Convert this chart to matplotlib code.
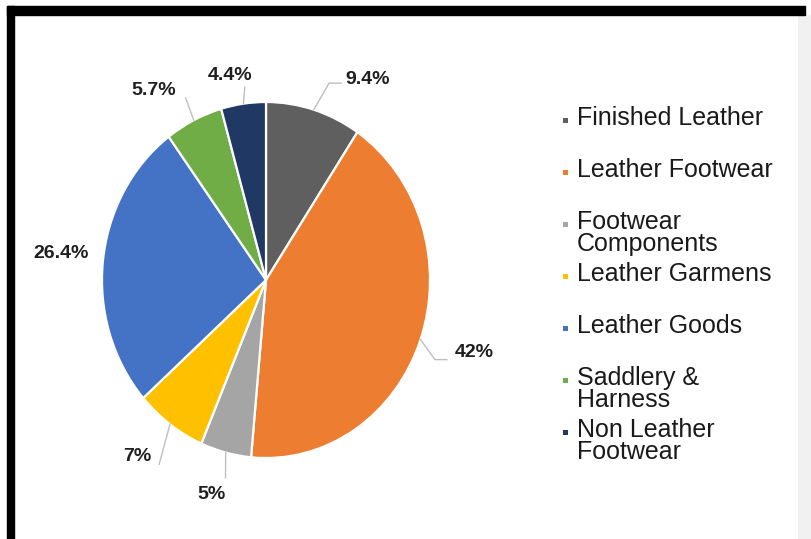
import numpy as np
import matplotlib.pyplot as plt
from matplotlib.patches import Rectangle

categories = ['Finished Leather', 'Leather Footwear', 'Footwear\nComponents',
              'Leather Garmens', 'Leather Goods', 'Saddlery &\nHarness',
              'Non Leather\nFootwear']
shares = [9.4, 42, 5, 7, 26.4, 5.7, 4.4]
pct_labels = ['9.4%', '42%', '5%', '7%', '26.4%', '5.7%', '4.4%']
colors = ['#5f5f5f', '#ed7d31', '#a5a5a5', '#ffc000', '#4472c4', '#70ad47', '#203864']

W, H = 811, 539
SX = 164 / 178  # the source picture is squeezed sideways

fig = plt.figure(figsize=(W / 100, H / 100), dpi=100)

# background axes in plain pixels (y from top)
bg = fig.add_axes([0, 0, 1, 1])
bg.set_xlim(0, W)
bg.set_ylim(H, 0)
bg.axis('off')
bg.add_patch(Rectangle((7, 6), 798, 9, color='black', zorder=5))
bg.add_patch(Rectangle((7, 6), 7, H, color='black', zorder=5))
bg.add_patch(Rectangle((798, 15), 13, H, color='#f1f1f1', zorder=1, lw=0))

# pie axes: x data units are SX pixels wide
ax = fig.add_axes([0, 0, 1, 1])
ax.patch.set_alpha(0)
cx, cy, r = 266, 280, 178
wedges, _ = ax.pie(shares, colors=colors, startangle=90, counterclock=False,
                   center=(cx / SX, H - cy), radius=r, frame=True,
                   wedgeprops=dict(edgecolor='white', linewidth=1.6))
ax.set_xlim(0, W / SX)
ax.set_ylim(0, H)
ax.set_aspect('auto')
ax.axis('off')


def px(x, y):
    return x / SX, H - y


# label placement: clockwise angle shift (deg), distance / r, leader points
ang_shift = [10.0, -0.3, 0, 0.3, 1.2, -4.6, -2.1]
dist = [1.266, 1.237, 1.245, 1.227, 1.16, 1.236, 1.169]
leaders = [[(-39, 4), (-27, 4)], [(-39, 7), (-27, 7)], [(14, -17)], [(22, 8)],
           [], [(32, 7)], [(15, 12)]]
for w, lab, sh, d, ld in zip(wedges, pct_labels, ang_shift, dist, leaders):
    mid = np.deg2rad(90 - (w.theta1 + w.theta2) / 2)  # clockwise from top
    lt = mid + np.deg2rad(sh)
    tx, ty = cx + r * d * np.sin(lt), cy - r * d * np.cos(lt)
    ax.text(*px(tx, ty), lab, ha='center', va='center', fontsize=14,
            family=['Liberation Sans', 'DejaVu Sans'], fontweight='bold',
            color='#1f1f1f', zorder=6)
    if ld:
        ex, ey = cx + r * SX * np.sin(mid), cy - r * np.cos(mid)
        pts = [(ex, ey)] + [(tx + a, ty + b) for a, b in ld]
        xs, ys = zip(*[px(a, b) for a, b in pts])
        ax.plot(xs, ys, color='#bfbfbf', lw=1, zorder=4)

# legend
for i, (cat, col) in enumerate(zip(categories, colors)):
    y = 120 + 52 * i
    bg.add_patch(Rectangle((563, y - 2.5), 5, 5, color=col, lw=0))
    bg.text(577, y - 14, cat, ha='left', va='top', fontsize=18,
            family=['Liberation Sans', 'DejaVu Sans'], color='#1a1a1a',
            linespacing=0.92)

fig.savefig('out.png', dpi=100)
